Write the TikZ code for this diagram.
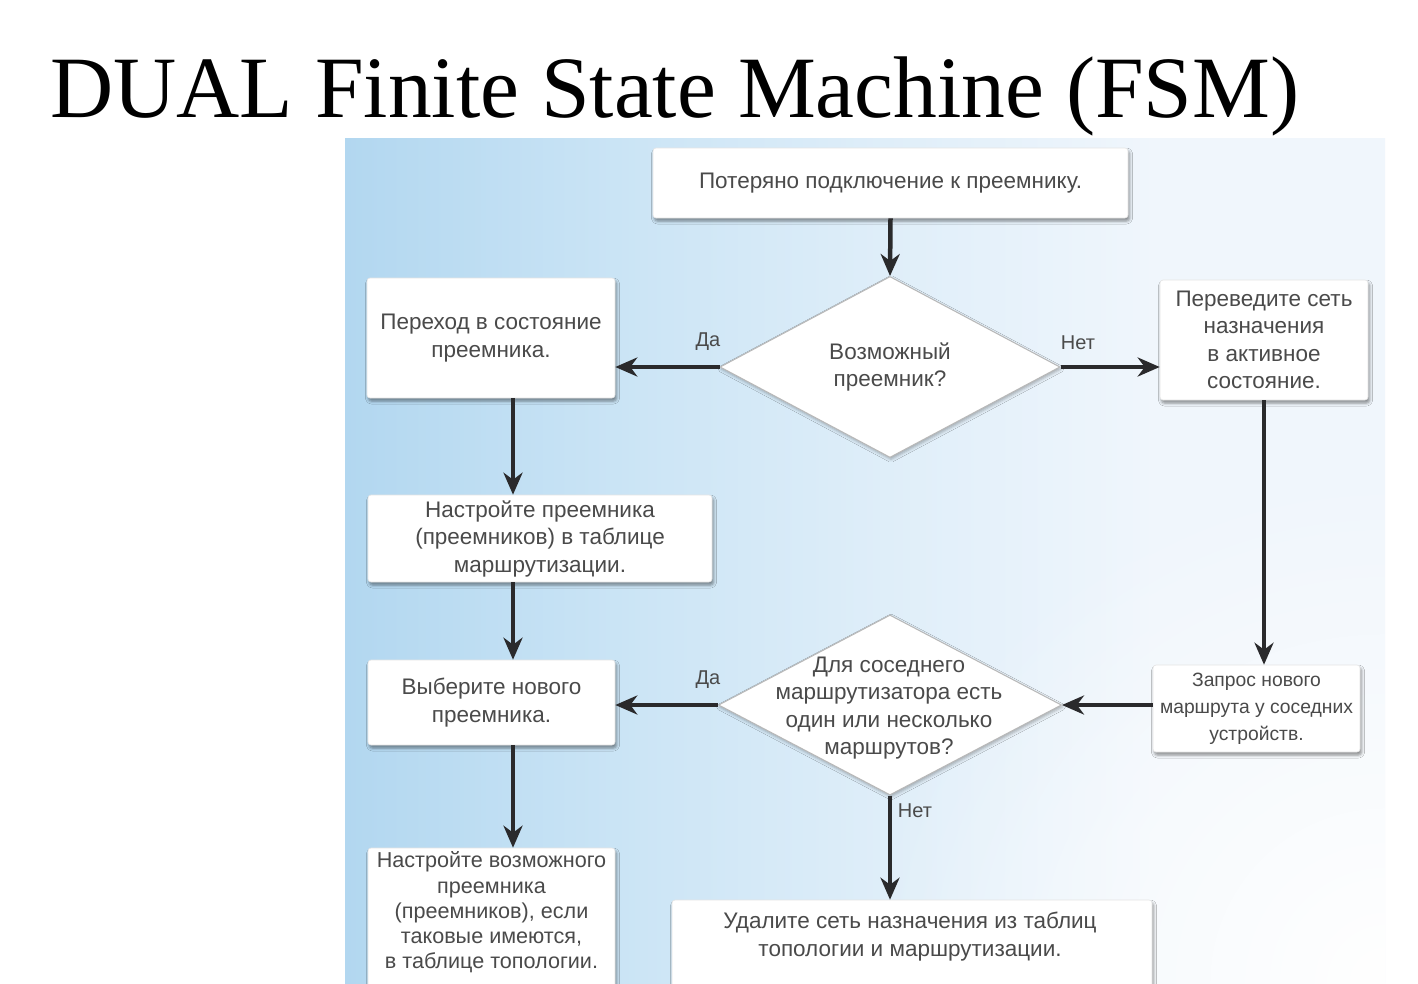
\documentclass[tikz,border=0pt]{standalone}
\usepackage{fontspec}
\setmainfont{Liberation Sans}
\newfontfamily\titlefont{Liberation Serif}
\usetikzlibrary{shapes.geometric, arrows.meta, shadows.blur, fadings}

\definecolor{txt}{RGB}{74,74,74}
\definecolor{arrowc}{RGB}{42,42,44}
\definecolor{bgA}{RGB}{178,215,240}
\definecolor{bgB}{RGB}{202,228,245}
\definecolor{bgC}{RGB}{223,238,249}
\definecolor{bgD}{RGB}{240,246,252}

% panel colour runs from blue on the left to almost white on the right
\pgfdeclarehorizontalshading{panelshade}{100bp}{%
  color(0bp)=(bgA); color(25bp)=(bgA); color(38bp)=(bgB);
  color(51bp)=(bgC); color(64bp)=(bgD); color(75bp)=(bgD); color(100bp)=(bgD)}

% soft round glow, opaque in the middle
\tikzfading[name=softglow, inner color=transparent!0, outer color=transparent!100]

\tikzset{
  stepbox/.style={rectangle, rounded corners=3pt, fill=white, draw=black!10,
    line width=0.6pt, text=txt, align=center, inner sep=2pt,
    font=\fontsize{22.5}{27.5}\selectfont,
    blur shadow={shadow xshift=1.5pt, shadow yshift=-3pt,
      shadow blur radius=3pt, shadow opacity=45}},
  boxtext/.style={text=txt, align=center, inner sep=0pt,
    font=\fontsize{22.5}{27.5}\selectfont},
  decision/.style={diamond, fill=white, draw=black!28, line width=1pt,
    text=txt, align=center, inner sep=0pt,
    font=\fontsize{22.5}{27.5}\selectfont,
    blur shadow={shadow xshift=1pt, shadow yshift=-2pt,
      shadow blur radius=3pt, shadow opacity=30}},
  flow/.style={draw=arrowc, line width=4.5pt,
    -{Stealth[length=22pt, width=19pt, inset=7pt]}},
  answer/.style={text=txt, inner sep=0pt, font=\fontsize{20}{24}\selectfont},
}

\begin{document}
\begin{tikzpicture}[x=1pt, y=-1pt]
\useasboundingbox (0,0) rectangle (1418,983);
\fill[white] (0,0) rectangle (1418,983);

% background panel
\fill[shading=panelshade] (345,138) rectangle (1385,983);
\begin{scope}
  \clip (345,138) rectangle (1385,983);
  \fill[white, path fading=softglow] (1385,983) circle (520);
\end{scope}

% title
\node[anchor=base west, inner sep=0pt,
  font=\titlefont\fontsize{87.5}{100}\selectfont] (title) at (50,117)
  {DUAL Finite State Machine (FSM)};

% steps and decisions
\node[stepbox, minimum width=475pt, minimum height=70pt] (top) at (890.5,183)
  {Потеряно подключение к преемнику.};
\node[decision, minimum width=340pt, minimum height=181pt] (d1) at (890,367)
  {Возможный\\преемник?};
\node[stepbox, minimum width=248pt, minimum height=120pt] (l1) at (491,338)
  {Переход в состояние\\преемника.};
\node[stepbox, minimum width=208pt, minimum height=120pt] (r1) at (1264,340)
  {Переведите сеть\\назначения\\в активное\\состояние.};
\node[stepbox, minimum width=344pt, minimum height=87pt] (l2) at (540,538.5)
  {Настройте преемника\\(преемников) в таблице\\маршрутизации.};
\node[stepbox, minimum width=247pt, minimum height=85pt] (l3) at (491.5,702.5)
  {Выберите нового\\преемника.};
\node[decision, minimum width=343pt, minimum height=180pt] (d2) at (890,705) {};
\node[boxtext] (d2t) at (889,708)
  {Для соседнего\\маршрутизатора есть\\один или несколько\\маршрутов?};
\node[stepbox, minimum width=207pt, minimum height=87pt,
  font=\fontsize{19.3}{27}\selectfont] (r2) at (1256.5,708.5)
  {Запрос нового\\маршрута у соседних\\устройств.};
\node[stepbox, minimum width=247pt, minimum height=150pt] (l4) at (491.5,923) {};
\node[boxtext, font=\fontsize{21.6}{25.3}\selectfont] (l4t) at (491.5,912.5)
  {Настройте возможного\\преемника\\(преемников), если\\таковые имеются,\\в таблице топологии.};
\node[stepbox, minimum width=480pt, minimum height=100pt] (bot) at (912,950) {};
\node[boxtext] (bott) at (910,936.5)
  {Удалите сеть назначения из таблиц\\топологии и маршрутизации.};

% connectors
\coordinate (colL) at (513,0);
\draw[flow] (top.south) -- (d1.north);
\draw[flow] (d1.west) -- (d1.west -| l1.east);
\draw[flow] (d1.east) -- (d1.east -| r1.west);
\draw[flow] (l1.south -| colL) -- (l2.north -| colL);
\draw[flow] (l2.south -| colL) -- (l3.north -| colL);
\draw[flow] (l3.south -| colL) -- (l4.north -| colL);
\draw[flow] (r1.south) -- (r1.south |- r2.north);
\draw[flow] (d2.east -| r2.west) -- (d2.east);
\draw[flow] (d2.west) -- (d2.west -| l3.east);
\draw[flow] (d2.south) -- (d2.south |- bot.north);

% answer labels
\node[answer] (yes1) at (708,342) {Да};
\node[answer] (no1) at (1078,343) {Нет};
\node[answer] (yes2) at (708,680) {Да};
\node[answer] (no2) at (915,811) {Нет};
\end{tikzpicture}
\end{document}
